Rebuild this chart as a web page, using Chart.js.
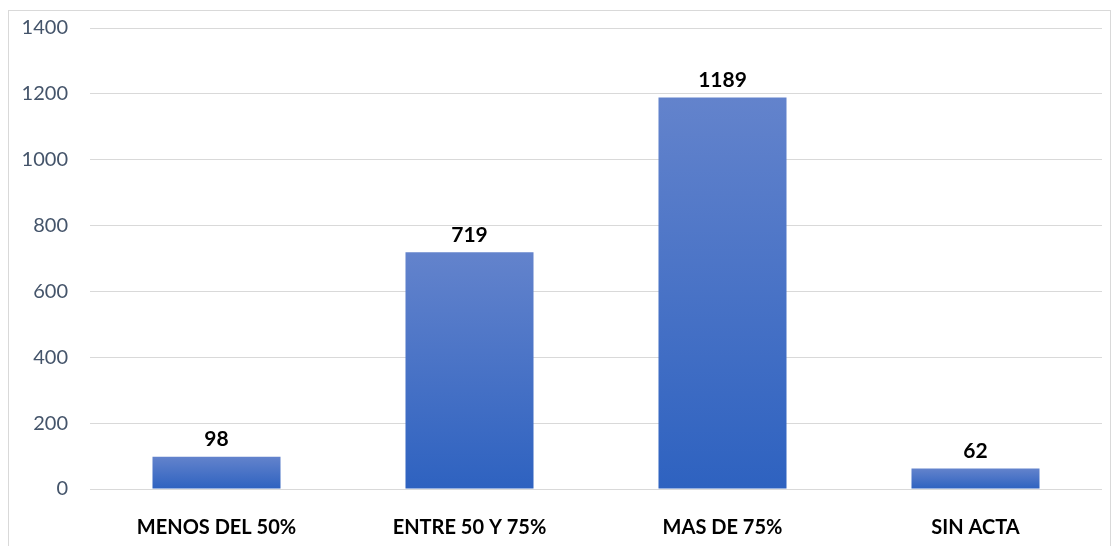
<!DOCTYPE html>
<html>
<head>
<meta charset="utf-8">
<script src="https://cdn.jsdelivr.net/npm/chart.js@4"></script>
<style>
  body { margin: 0; background: #fff; }
  #wrap { width: 1114px; height: 546px; }
</style>
</head>
<body>
<div id="wrap"><canvas id="myChart" width="1114" height="546"></canvas></div>
<script>
const categorias = ['MENOS DEL 50%', 'ENTRE 50 Y 75%', 'MAS DE 75%', 'SIN ACTA'];
const valores = [98, 719, 1189, 62];
const ticksY = [0, 200, 400, 600, 800, 1000, 1200, 1400];

// degradado vertical por barra (claro arriba, oscuro abajo)
function relleno(ctx) {
    const chart = ctx.chart;
    const y = chart.scales && chart.scales.y;
    if (!chart.chartArea || !y || ctx.raw == null) return '#4472c4';
    const top = y.getPixelForValue(ctx.raw);
    const bottom = y.getPixelForValue(0);
    if (!isFinite(top) || !isFinite(bottom) || top === bottom) return '#4472c4';
    const g = chart.ctx.createLinearGradient(0, top, 0, bottom);
    g.addColorStop(0, 'rgb(99,131,204)');
    g.addColorStop(1, 'rgb(46,98,192)');
    return g;
}

// marco exterior del grafico
const marco = {
    id: 'marco',
    beforeDraw(chart) {
        const c = chart.ctx;
        c.save();
        c.strokeStyle = '#d9d9d9';
        c.lineWidth = 1;
        c.strokeRect(8.5, 10.5, 1102, 540);
        c.restore();
    }
};

// etiquetas de valor encima de cada barra
const etiquetas = {
    id: 'etiquetas',
    afterDatasetsDraw(chart) {
        const c = chart.ctx;
        const meta = chart.getDatasetMeta(0);
        c.save();
        c.font = 'bold 21px Lato';
        c.fillStyle = '#000';
        c.textAlign = 'center';
        c.textBaseline = 'bottom';
        meta.data.forEach((bar, i) => {
            c.fillText(valores[i], bar.x, bar.y - 7);
        });
        c.restore();
    }
};

new Chart(document.getElementById('myChart'), {
    type: 'bar',
    data: {
        labels: categorias,
        datasets: [{
            data: valores,
            backgroundColor: relleno,
            categoryPercentage: 1,
            barPercentage: 0.506
        }]
    },
    options: {
        responsive: false,
        animation: false,
        layout: { padding: { left: 0, right: 12, top: 28, bottom: 0 } },
        plugins: {
            legend: { display: false },
            tooltip: { enabled: false }
        },
        scales: {
            x: {
                grid: { display: false },
                border: { display: false },
                ticks: {
                    color: '#000',
                    font: { family: 'Lato', size: 20, weight: 'bold' },
                    padding: 19,
                    maxRotation: 0
                },
                afterFit(scale) { scale.height = 57; }
            },
            y: {
                min: 0,
                max: 1400,
                afterBuildTicks(scale) { scale.ticks = ticksY.map(v => ({ value: v })); },
                grid: { color: '#d9d9d9', lineWidth: 1, drawTicks: false },
                border: { display: false },
                ticks: {
                    color: 'rgb(68,84,106)',
                    font: { family: 'Lato', size: 20 },
                    padding: 22,
                    callback: v => String(v)
                },
                afterFit(scale) {
                    scale.width = 90;
                    // el padding del tick no debe empujar el area del grafico
                    scale.paddingTop = 0;
                    scale.paddingBottom = 0;
                }
            }
        }
    },
    plugins: [marco, etiquetas]
});
</script>
</body>
</html>
